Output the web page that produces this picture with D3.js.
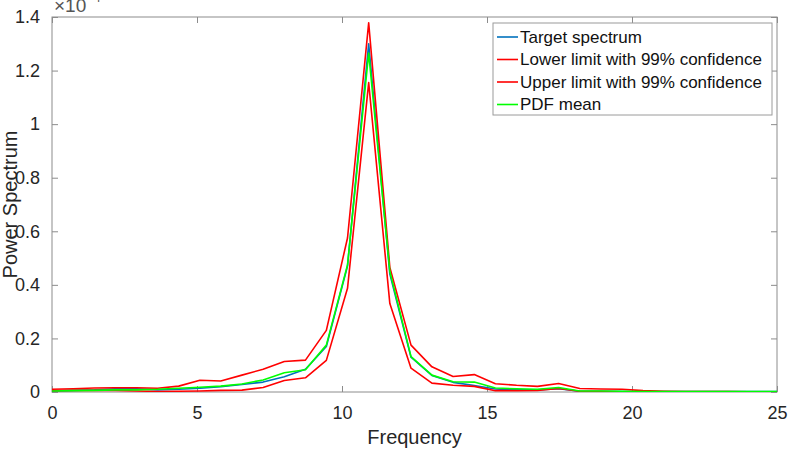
<!DOCTYPE html>
<html>
<head>
<meta charset="utf-8">
<script src="https://cdn.jsdelivr.net/npm/d3@7/dist/d3.min.js"></script>
<style>
  html, body { margin: 0; padding: 0; background: #fff; }
  svg { display: block; font-family: "Liberation Sans", Arial, sans-serif; }
</style>
</head>
<body>
<svg id="chart" width="790" height="450"></svg>
<script>
// ============================================================
// DATI (valori in unità di 1e-4)
// ============================================================
const freq = [0, 0.73, 1.46, 2.18, 2.91, 3.64, 4.37, 5.10, 5.82, 6.55, 7.28, 8.01,
  8.74, 9.46, 10.19, 10.92, 11.65, 12.38, 13.10, 13.83, 14.56, 15.29, 16.02, 16.74,
  17.47, 18.20, 18.93, 19.66, 20.38, 21.11, 21.84, 22.57, 23.30, 24.02, 24.75, 25.48];

const target = [0.004, 0.006, 0.008, 0.012, 0.012, 0.008, 0.010, 0.014, 0.020, 0.028,
  0.037, 0.057, 0.085, 0.170, 0.470, 1.300, 0.440, 0.130, 0.062, 0.036, 0.024, 0.011,
  0.008, 0.008, 0.012, 0.003, 0.003, 0.002, 0.002, 0.002, 0.002, 0.002, 0.002, 0.002,
  0.002, 0.002];

const lower = [0.005, 0.006, 0.006, 0.006, 0.004, 0.002, 0.003, 0.004, 0.006, 0.007,
  0.017, 0.043, 0.053, 0.118, 0.387, 1.155, 0.330, 0.089, 0.033, 0.025, 0.021, 0.005,
  0.005, 0.006, 0.013, 0.003, 0.002, 0.001, 0.001, 0.001, 0.001, 0.001, 0.001, 0.001,
  0.001, 0.001];

const upper = [0.010, 0.012, 0.015, 0.016, 0.016, 0.014, 0.022, 0.044, 0.041, 0.063,
  0.085, 0.114, 0.119, 0.230, 0.575, 1.378, 0.465, 0.175, 0.094, 0.058, 0.065, 0.031,
  0.025, 0.021, 0.032, 0.013, 0.011, 0.010, 0.005, 0.003, 0.002, 0.002, 0.002, 0.001,
  0.001, 0.001];

const pdfMean = [0.004, 0.005, 0.006, 0.008, 0.008, 0.010, 0.014, 0.018, 0.022, 0.030,
  0.045, 0.072, 0.083, 0.175, 0.474, 1.265, 0.450, 0.132, 0.063, 0.038, 0.037, 0.015,
  0.012, 0.010, 0.017, 0.004, 0.004, 0.003, 0.002, 0.002, 0.002, 0.002, 0.002, 0.002,
  0.002, 0.002];

const xTicks = [0, 5, 10, 15, 20, 25];
const yTicks = [0, 0.2, 0.4, 0.6, 0.8, 1, 1.2, 1.4];

const seriesNames = ["Target spectrum", "Lower limit with 99% confidence",
  "Upper limit with 99% confidence", "PDF mean"];
const seriesColors = ["#0072BD", "#ff0000", "#ff0000", "#00ff00"];

// ============================================================
// SETUP SVG
// ============================================================
const svg = d3.select("#chart");
const margin = { top: 17, right: 13, bottom: 58, left: 52 };
const width = 790;
const height = 450;
const innerWidth = width - margin.left - margin.right;
const innerHeight = height - margin.top - margin.bottom;

const g = svg.append("g").attr("transform", `translate(${margin.left},${margin.top})`);

const x = d3.scaleLinear().domain([0, 25]).range([0, innerWidth]);
const y = d3.scaleLinear().domain([0, 1.4]).range([innerHeight, 0]);

const axisColor = "#8c8c8c";
const textColor = "#262626";

// clip per le linee
svg.append("defs").append("clipPath").attr("id", "clip")
  .append("rect").attr("width", innerWidth).attr("height", innerHeight);

// ------------------------------------------------------------
// Assi (stile MATLAB: tick interni, box completo)
// ------------------------------------------------------------
const tickLen = 6;
function styleAxis(sel) {
  sel.select(".domain").remove();
  sel.selectAll(".tick line").attr("stroke", axisColor);
  sel.selectAll(".tick text").attr("fill", textColor).style("font-size", "18px");
}
// assi speculari (top/right): solo tacche, niente testo
function ticksOnly(sel) {
  styleAxis(sel);
  sel.selectAll(".tick text").remove();
}

g.append("g").attr("transform", `translate(0,${innerHeight})`)
  .call(d3.axisBottom(x).tickValues(xTicks).tickSizeInner(-tickLen).tickPadding(14))
  .call(styleAxis);
g.append("g")
  .call(d3.axisTop(x).tickValues(xTicks).tickSizeInner(-tickLen))
  .call(ticksOnly);
g.append("g")
  .call(d3.axisLeft(y).tickValues(yTicks).tickSizeInner(-tickLen).tickPadding(12)
    .tickFormat(d3.format("~g")))
  .call(styleAxis);
g.append("g").attr("transform", `translate(${innerWidth},0)`)
  .call(d3.axisRight(y).tickValues(yTicks).tickSizeInner(-tickLen))
  .call(ticksOnly);

// box
g.append("rect")
  .attr("width", innerWidth).attr("height", innerHeight)
  .attr("fill", "none").attr("stroke", axisColor).attr("stroke-width", 1);

// ------------------------------------------------------------
// Linee
// ------------------------------------------------------------
const line = d3.line().x((d) => x(d[0])).y((d) => y(d[1]));
const allSeries = [target, lower, upper, pdfMean];

const lines = g.append("g").attr("clip-path", "url(#clip)");
allSeries.forEach((vals, i) => {
  lines.append("path")
    .datum(freq.map((f, k) => [f, vals[k]]))
    .attr("fill", "none")
    .attr("stroke", seriesColors[i])
    .attr("stroke-width", 1.6)
    .attr("stroke-linejoin", "round")
    .attr("d", line);
});

// ------------------------------------------------------------
// Label assi ed esponente
// ------------------------------------------------------------
svg.append("text")
  .attr("x", margin.left + innerWidth / 2).attr("y", 444)
  .attr("text-anchor", "middle").attr("fill", textColor)
  .style("font-size", "20px").text("Frequency");

svg.append("text")
  .attr("transform", `translate(17,${margin.top + innerHeight / 2}) rotate(-90)`)
  .attr("text-anchor", "middle").attr("fill", textColor)
  .style("font-size", "20px").text("Power Spectrum");

// esponente in alto a sinistra (tagliato dal bordo come nell'originale)
const expo = svg.append("text").attr("x", 54).attr("y", 12)
  .attr("fill", "#555").style("font-size", "19px");
expo.append("tspan").text("\u00d710");
expo.append("tspan").attr("dx", 3).attr("dy", -10).style("font-size", "13px").text("-4");

// ------------------------------------------------------------
// Legenda
// ------------------------------------------------------------
const legend = svg.append("g").attr("transform", "translate(493,23)");
legend.append("rect")
  .attr("width", 279).attr("height", 92)
  .attr("fill", "#fff").attr("stroke", "#9a9a9a");

seriesNames.forEach((name, i) => {
  const row = legend.append("g").attr("transform", `translate(0,${14 + i * 22.5})`);
  row.append("line")
    .attr("x1", 4).attr("x2", 25)
    .attr("stroke", seriesColors[i]).attr("stroke-width", 1.6);
  row.append("text")
    .attr("x", 27).attr("dy", "0.35em")
    .attr("fill", "#111").style("font-size", "17px").text(name);
});
</script>
</body>
</html>
